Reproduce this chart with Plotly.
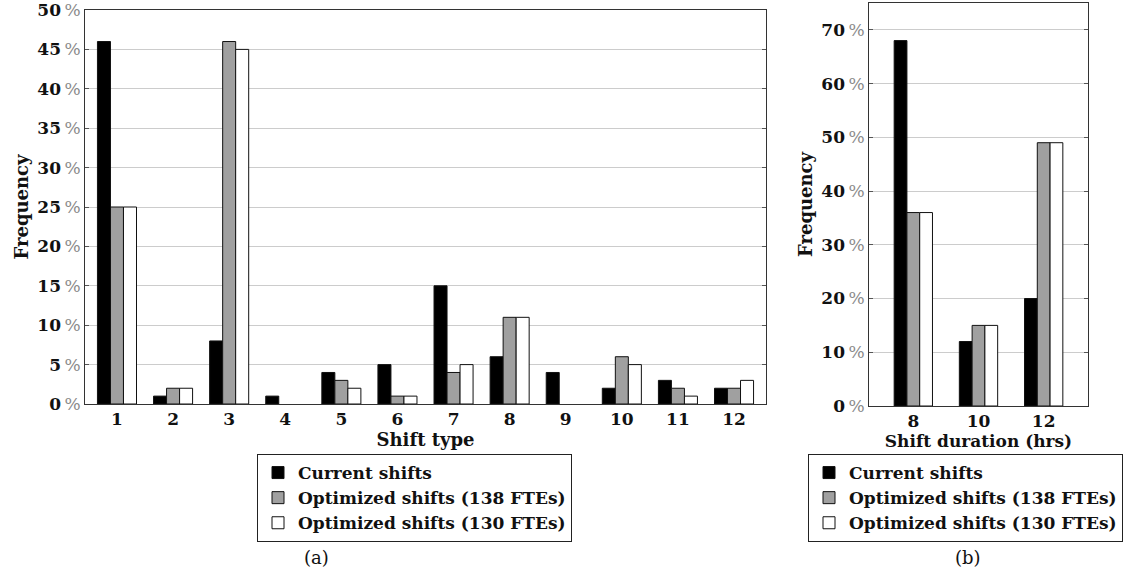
import plotly.graph_objects as go

# ---- data ----
shift_types = [str(i) for i in range(1, 13)]
current_a = [46, 1, 8, 1, 4, 5, 15, 6, 4, 2, 3, 2]
opt138_a = [25, 2, 46, 0, 3, 1, 4, 11, 0, 6, 2, 2]
opt130_a = [25, 2, 45, 0, 2, 1, 5, 11, 0, 5, 1, 3]

durations = ["8", "10", "12"]
current_b = [68, 12, 20]
opt138_b = [36, 15, 49]
opt130_b = [36, 15, 49]

series_names = ["Current shifts", "Optimized shifts (138 FTEs)", "Optimized shifts (130 FTEs)"]
ticks_a = list(range(0, 51, 5))
ticks_b = list(range(0, 71, 10))

FONT = "DejaVu Serif"
fills = ["#000000", "#a0a0a0", "#ffffff"]

fig = go.Figure()

def add_group(xcats, ys, xaxis, yaxis, legend, w):
    offs = [-1.5 * w, -0.5 * w, 0.5 * w]
    for name, y, c, o in zip(series_names, ys, fills, offs):
        fig.add_trace(go.Bar(
            x=xcats, y=y, name="<b>" + name + "</b>",
            marker=dict(color=c, line=dict(color="#111111",
                                           width=[0 if v == 0 else 1 for v in y])),
            width=w, offset=o, xaxis=xaxis, yaxis=yaxis, legend=legend,
        ))

add_group(shift_types, [current_a, opt138_a, opt130_a], "x", "y", "legend", 0.232)
add_group(durations, [current_b, opt138_b, opt130_b], "x2", "y2", "legend2", 0.196)

def ytext(v):
    return f"<b>{v}</b><span style='color:#8a8a8a'>\u2009%</span>"

axis_common = dict(showline=True, linecolor="#333333", linewidth=1, mirror="allticks",
                   ticks="inside", ticklen=4, tickcolor="#555555", automargin=False,
                   ticklabeloverflow="allow")

fig.update_layout(
    width=1148, height=585,
    margin=dict(l=0, r=0, t=0, b=0, autoexpand=False),
    paper_bgcolor="white", plot_bgcolor="white",
    barmode="overlay",
    font=dict(family=FONT, color="#111111", size=17),
    xaxis=dict(domain=[85 / 1148, 766 / 1148], anchor="y", type="category",
               range=[-0.57, 11.57], showgrid=False, automargin=False,
               tickvals=shift_types, ticktext=[f"<b>{t}</b>" for t in shift_types],
               tickfont=dict(size=17), ticks="", showline=True, linecolor="#333333", mirror=True,
               title=dict(text="<b>Shift type</b>", font=dict(size=18), standoff=3)),
    yaxis=dict(domain=[1 - 404 / 585, 1 - 10 / 585], anchor="x", range=[0, 50],
               tickvals=ticks_a, ticktext=[ytext(v) for v in ticks_a],
               showgrid=True, gridcolor="#cccccc", gridwidth=1, zeroline=False,
               tickfont=dict(size=17),
               title=dict(text="<b>Frequency</b>", font=dict(size=18), standoff=4),
               **axis_common),
    xaxis2=dict(domain=[869 / 1148, 1088 / 1148], anchor="y2", type="category",
                range=[-0.68, 2.68], showgrid=False, automargin=False,
                tickvals=durations, ticktext=[f"<b>{t}</b>" for t in durations],
                tickfont=dict(size=17), ticks="", showline=True, linecolor="#333333", mirror=True,
                title=dict(text="<b>Shift duration (hrs)</b>", font=dict(size=17), standoff=3)),
    yaxis2=dict(domain=[1 - 406 / 585, 1 - 3 / 585], anchor="x2", range=[0, 75],
                tickvals=ticks_b, ticktext=[ytext(v) for v in ticks_b],
                showgrid=True, gridcolor="#cccccc", gridwidth=1, zeroline=False,
                tickfont=dict(size=17),
                title=dict(text="<b>Frequency</b>", font=dict(size=18), standoff=4),
                **axis_common),
    legend=dict(x=257 / 1148, y=1 - 454 / 585, xanchor="left", yanchor="top",
                bordercolor="#222222", borderwidth=1, bgcolor="white",
                font=dict(family=FONT, size=17), tracegroupgap=0, itemwidth=30,
                traceorder="normal"),
    legend2=dict(x=808 / 1148, y=1 - 454 / 585, xanchor="left", yanchor="top",
                 bordercolor="#222222", borderwidth=1, bgcolor="white",
                 font=dict(family=FONT, size=17), tracegroupgap=0, itemwidth=30,
                 traceorder="normal"),
    annotations=[
        dict(text="(a)", x=316 / 1148, y=1 - 557 / 585, xref="paper", yref="paper",
             xanchor="center", yanchor="middle",
             showarrow=False, font=dict(family=FONT, size=18)),
        dict(text="(b)", x=968 / 1148, y=1 - 557 / 585, xref="paper", yref="paper",
             xanchor="center", yanchor="middle",
             showarrow=False, font=dict(family=FONT, size=18)),
    ],
)

fig.write_html("out.html")
